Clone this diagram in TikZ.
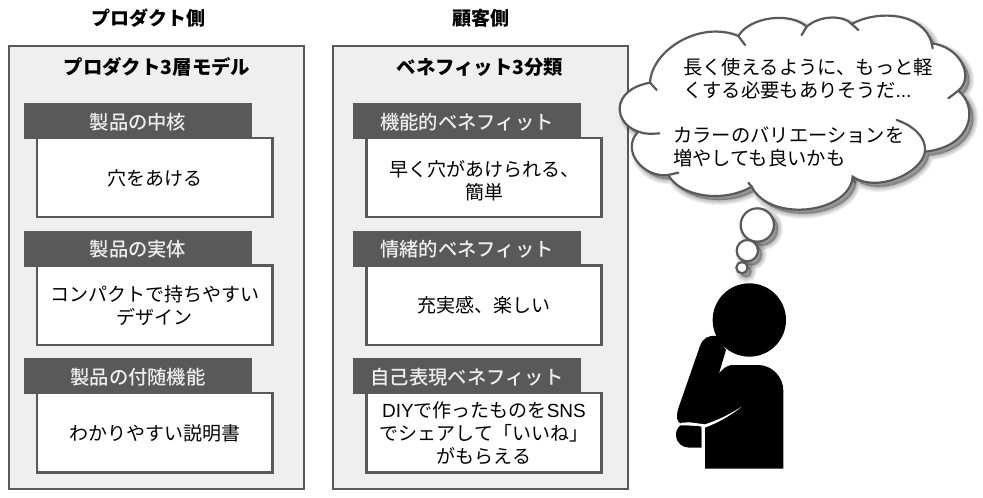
\documentclass[tikz,border=0pt]{standalone}
\usepackage{fontspec}
\setmainfont{Noto Sans CJK JP}
\newfontfamily\jpm{Noto Sans CJK JP Medium}
\newfontfamily\latn{Liberation Sans}
\definecolor{dk}{HTML}{595959}
\definecolor{pan}{HTML}{EFEFEF}
\newcommand{\cloudpath}{
 (120,248) .. controls (125,150) and (270,60) .. (385,108)
 .. controls (420,50) and (540,35) .. (590,80)
 .. controls (630,45) and (700,45) .. (725,72)
 .. controls (800,30) and (940,35) .. (965,130)
 .. controls (1050,140) and (1095,230) .. (1045,272)
 .. controls (1105,320) and (1090,440) .. (945,455)
 .. controls (935,520) and (800,580) .. (728,530)
 .. controls (720,640) and (480,670) .. (425,560)
 .. controls (340,610) and (210,590) .. (175,525)
 .. controls (100,535) and (30,450) .. (85,395)
 .. controls (10,370) and (0,270) .. (120,248) -- cycle}
\tikzset{
 panel/.style={draw=dk,line width=2.5pt,fill=pan},
 head/.style={fill=dk,draw=none},
 bodybox/.style={draw=dk,line width=2.5pt,fill=white},
 lab/.style={inner sep=0pt,align=center,font=\fontsize{19}{23}\selectfont,text=black},
 hlab/.style={inner sep=0pt,align=center,font=\jpm\fontsize{19.3}{23}\selectfont,text=white!93!black},
 ttl/.style={inner sep=0pt,align=center,font=\fontsize{19}{23}\selectfont\bfseries,text=black},
 cl/.style={draw=dk,line width=2.2pt,line cap=round},
 cltext/.style={inner sep=0pt,align=left,anchor=west,font=\fontsize{19.3}{22}\selectfont}
}
\begin{document}
\begin{tikzpicture}[x=1pt,y=-1pt]
\useasboundingbox (0,0) rectangle (983,498);
% panels
\draw[panel] (9,46) rectangle (304,489);
\draw[panel] (333,46) rectangle (628,489);
\node[ttl] (t1) at (148,18) {プロダクト側};
\node[ttl] (t2) at (481,18) {顧客側};
\node[ttl,font=\fontsize{19.4}{23}\selectfont\bfseries] (p1) at (157,67) {プロダクト3層モデル};
\node[ttl,font=\fontsize{19.4}{23}\selectfont\bfseries] (p2) at (480,67) {ベネフィット3分類};
% left
\fill[head] (23.5,103) rectangle (252,139);
\draw[bodybox] (37,138) rectangle (272.5,217);
\fill[head] (23.5,230.5) rectangle (252,266.5);
\draw[bodybox] (37,265.5) rectangle (272.5,345);
\fill[head] (23.5,358) rectangle (252,394);
\draw[bodybox] (37,393) rectangle (272.5,472.5);
\node[hlab] (h1) at (138,122) {製品の中核};
\node[hlab] (h2) at (138,249.5) {製品の実体};
\node[hlab] (h3) at (138,377) {製品の付随機能};
\node[lab] (b1) at (154.5,178) {穴をあける};
\node[lab] (b2) at (154.5,305.5) {コンパクトで持ちやすい\\デザイン};
\node[lab] (b3) at (154.5,433) {わかりやすい説明書};
% right
\fill[head] (353,103) rectangle (581,139);
\draw[bodybox] (366.5,138) rectangle (601.5,217);
\fill[head] (353,230.5) rectangle (581,266.5);
\draw[bodybox] (366.5,265.5) rectangle (601.5,345);
\fill[head] (353,358) rectangle (581,394);
\draw[bodybox] (366.5,393) rectangle (601.5,472.5);
\node[hlab] (h4) at (467,122) {機能的ベネフィット};
\node[hlab] (h5) at (467,249.5) {情緒的ベネフィット};
\node[hlab] (h6) at (467,377) {自己表現ベネフィット};
\node[lab] (b4) at (484,180.5) {早く穴があけられる、\\簡単};
\node[lab] (b5) at (484,305) {充実感、楽しい};
\node[lab] (b6) at (484,433.5) {{\latn DIY}で作ったものを{\latn SNS}\\でシェアして「いいね」\\がもらえる};
% cloud
\begin{scope}[x=0.33333pt,y=-0.33333pt,xshift=610pt]
 \foreach \w in {0,2,4,6,8,10}{
  \begin{scope}[xshift=4pt,yshift=-4pt]
   \fill[black,opacity=.06,draw=black,line width=\w pt] \cloudpath;
   \fill[black,opacity=.06,draw=black,line width=\w pt] (442,675) circle[radius=50];
   \fill[black,opacity=.06,draw=black,line width=\w pt] (412,752) circle[radius=32];
   \fill[black,opacity=.06,draw=black,line width=\w pt] (396,803) circle[radius=17];
  \end{scope}
 }
 \fill[white] \cloudpath;
 \draw[cl] \cloudpath;
 \draw[cl] (120,248) -- (140,270);
 \draw[cl] (385,108) -- (405,135);
 \draw[cl] (590,80) -- (575,105);
 \draw[cl] (725,72) -- (745,90);
 \draw[cl] (965,130) -- (968,145);
 \draw[cl] (1045,272) -- (1015,295);
 \draw[cl] (945,455) .. controls (950,410) and (905,375) .. (860,360);
 \draw[cl] (728,530) -- (735,548);
 \draw[cl] (425,560) -- (415,548);
 \draw[cl] (175,525) -- (205,518);
 \draw[cl] (85,395) .. controls (105,403) and (125,402) .. (148,400);
 \draw[cl,fill=white] (442,675) circle[radius=50];
 \draw[cl,fill=white] (412,752) circle[radius=32];
 \draw[cl,fill=white] (396,803) circle[radius=17];
\end{scope}
\node[cltext] (c1) at (683,67) {長く使えるように、もっと軽};
\node[cltext] (c2) at (683,90) {くする必要もありそうだ{\latn ...}};
\node[cltext] (c3) at (673,135) {カラーのバリエーションを};
\node[cltext] (c4) at (673,158) {増やしても良いかも};
% person
\begin{scope}[x=0.33333pt,y=-0.33333pt,xshift=650pt,yshift=-270pt]
 \fill[black] (298,150) circle[radius=110];
 \fill[black] (165,596) -- (400,596) -- (400,362)
   .. controls (400,320) and (365,285) .. (325,285) -- (245,285)
   .. controls (228,287) and (218,298) .. (207,310) -- (228,240) -- (200,198)
   .. controls (175,195) and (158,205) .. (150,228) -- (85,415)
   .. controls (78,440) and (78,455) .. (95,462) -- (165,468) -- cycle;
 \fill[black] (92,466) .. controls (80,475) and (78,485) .. (78,497)
   .. controls (80,520) and (98,533) .. (118,533) -- (155,533) -- (155,470)
   .. controls (130,466) and (110,466) .. (92,466) -- cycle;
 \fill[white] (275,410) .. controls (235,435) and (205,450) .. (165,463)
   -- (120,457) -- (95,458) -- (90,464) -- (155,468) -- (156,533) -- (164,533) -- (164,473)
   .. controls (205,458) and (240,438) .. (275,410) -- cycle;
\end{scope}
\end{tikzpicture}
\end{document}
